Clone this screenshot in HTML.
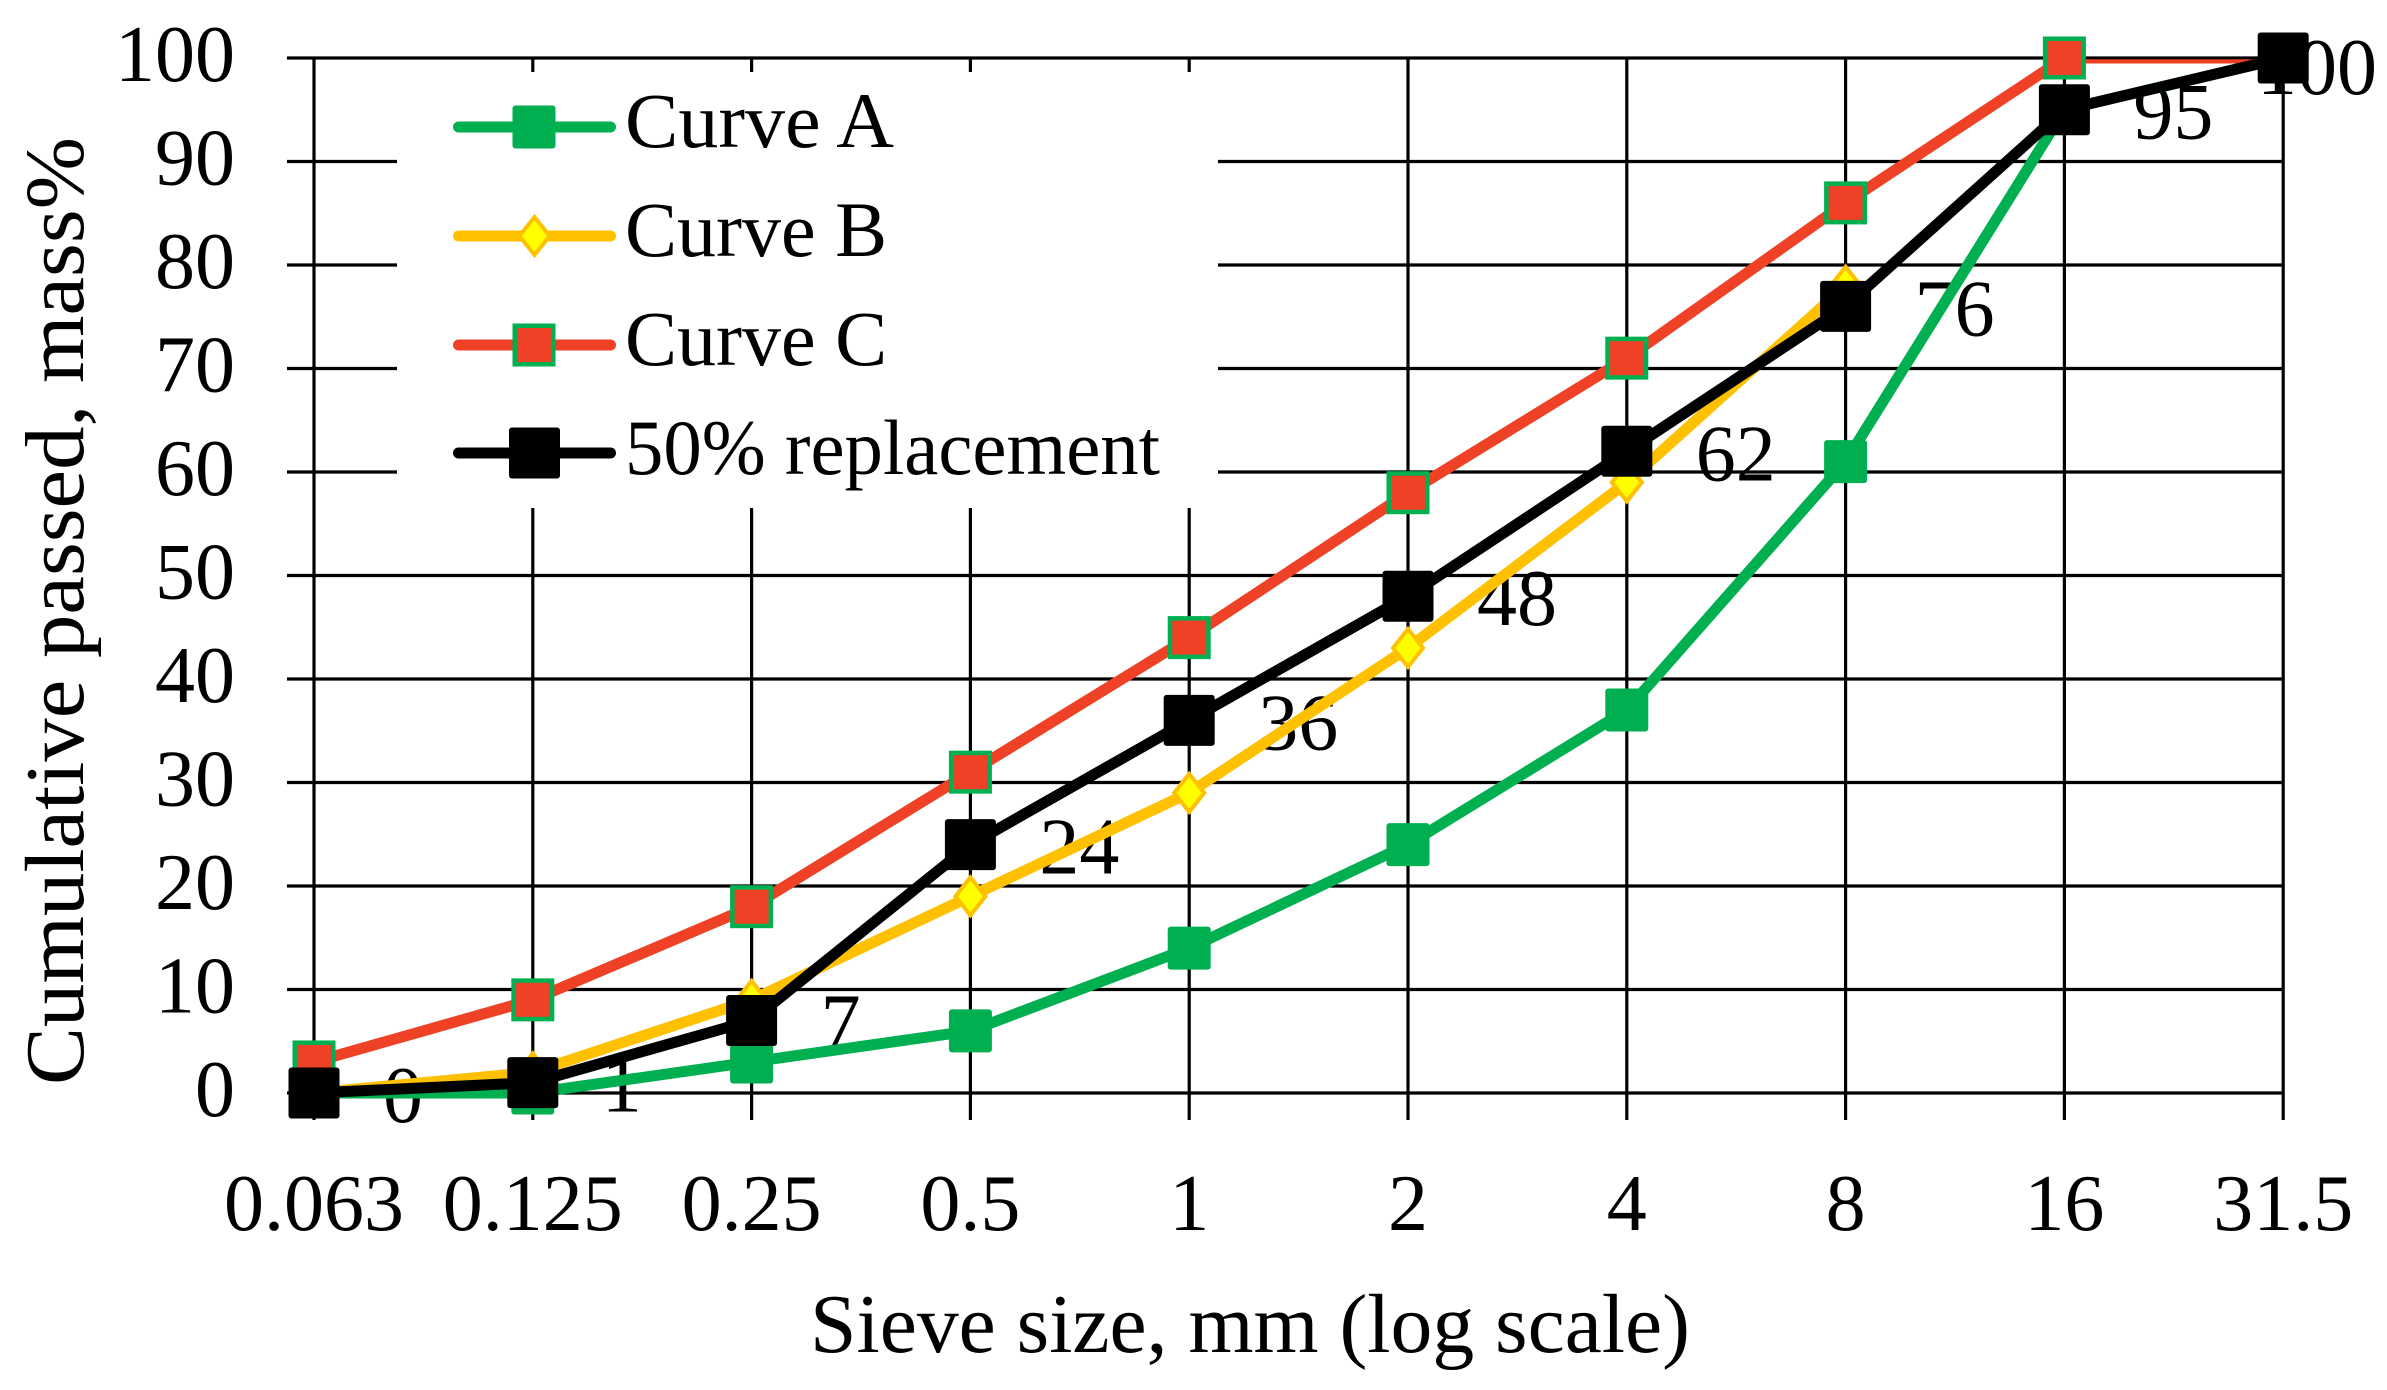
<!DOCTYPE html>
<html>
<head>
<meta charset="utf-8">
<style>
  html, body { margin: 0; padding: 0; background: #ffffff; }
  body { width: 2387px; height: 1390px; overflow: hidden; }
  svg { display: block; }
  text { font-family: "Liberation Serif", "Times New Roman", serif; fill: #000; }
</style>
</head>
<body>
<svg width="2387" height="1390" viewBox="0 0 2387 1390" xmlns="http://www.w3.org/2000/svg">
  <defs>
    <clipPath id="plotclip">
      <rect x="250" y="59.3" width="2100" height="1200"/>
    </clipPath>
  </defs>
  <rect x="0" y="0" width="2387" height="1390" fill="#ffffff"/>

  <!-- horizontal gridlines -->
  <g stroke="#000" stroke-width="3.2">
    <line x1="287" y1="58" x2="2284.5" y2="58"/>
    <line x1="287" y1="161.5" x2="2284.5" y2="161.5"/>
    <line x1="287" y1="265" x2="2284.5" y2="265"/>
    <line x1="287" y1="368.5" x2="2284.5" y2="368.5"/>
    <line x1="287" y1="472" x2="2284.5" y2="472"/>
    <line x1="287" y1="575.5" x2="2284.5" y2="575.5"/>
    <line x1="287" y1="679" x2="2284.5" y2="679"/>
    <line x1="287" y1="782.5" x2="2284.5" y2="782.5"/>
    <line x1="287" y1="886" x2="2284.5" y2="886"/>
    <line x1="287" y1="989.5" x2="2284.5" y2="989.5"/>
    <line x1="287" y1="1093" x2="2284.5" y2="1093"/>
  </g>
  <!-- vertical gridlines -->
  <g stroke="#000" stroke-width="3.2">
    <line x1="314" y1="56.5" x2="314" y2="1120"/>
    <line x1="532.8" y1="56.5" x2="532.8" y2="1120"/>
    <line x1="751.6" y1="56.5" x2="751.6" y2="1120"/>
    <line x1="970.4" y1="56.5" x2="970.4" y2="1120"/>
    <line x1="1189.2" y1="56.5" x2="1189.2" y2="1120"/>
    <line x1="1408" y1="56.5" x2="1408" y2="1120"/>
    <line x1="1626.8" y1="56.5" x2="1626.8" y2="1120"/>
    <line x1="1845.6" y1="56.5" x2="1845.6" y2="1120"/>
    <line x1="2064.4" y1="56.5" x2="2064.4" y2="1120"/>
    <line x1="2283.2" y1="56.5" x2="2283.2" y2="1120"/>
  </g>

  <!-- Y tick labels -->
  <g font-size="80" text-anchor="end">
    <text x="235" y="81">100</text>
    <text x="235" y="184.5">90</text>
    <text x="235" y="288">80</text>
    <text x="235" y="391.5">70</text>
    <text x="235" y="495">60</text>
    <text x="235" y="598.5">50</text>
    <text x="235" y="702">40</text>
    <text x="235" y="805.5">30</text>
    <text x="235" y="909">20</text>
    <text x="235" y="1012.5">10</text>
    <text x="235" y="1116">0</text>
  </g>

  <!-- X tick labels -->
  <g font-size="80" text-anchor="middle">
    <text x="314" y="1230">0.063</text>
    <text x="532.8" y="1230">0.125</text>
    <text x="751.6" y="1230">0.25</text>
    <text x="970.4" y="1230">0.5</text>
    <text x="1189.2" y="1230">1</text>
    <text x="1408" y="1230">2</text>
    <text x="1626.8" y="1230">4</text>
    <text x="1845.6" y="1230">8</text>
    <text x="2064.4" y="1230">16</text>
    <text x="2283.2" y="1230">31.5</text>
  </g>

  <!-- Axis titles -->
  <text x="1250" y="1352" font-size="84" text-anchor="middle" textLength="880" lengthAdjust="spacingAndGlyphs">Sieve size, mm (log scale)</text>
  <text x="0" y="0" font-size="84" text-anchor="middle" textLength="948" lengthAdjust="spacingAndGlyphs" transform="translate(83,611) rotate(-90)">Cumulative passed, mass%</text>

  <!-- Data labels (drawn beneath series) -->
  <g font-size="80">
    <text x="383" y="1122">0</text>
    <text x="601.8" y="1111.6">1</text>
    <text x="820.6" y="1049.5">7</text>
    <text x="1039.4" y="873.6">24</text>
    <text x="1258.2" y="749.4">36</text>
    <text x="1477" y="625.2">48</text>
    <text x="1695.8" y="480.3">62</text>
    <text x="1914.6" y="335.4">76</text>
    <text x="2133.4" y="138.7">95</text>
    <text x="2377" y="94" text-anchor="end">100</text>
  </g>

  <!-- Curve A -->
  <g clip-path="url(#plotclip)" fill="none" stroke-width="11" stroke-linejoin="round" stroke-linecap="butt">
    <polyline stroke="#00B050" points="314,1093 532.8,1093 751.6,1061.95 970.4,1030.9 1189.2,948.1 1408,844.6 1626.8,710.05 1845.6,461.65 2064.4,109.75 2283.2,58"/>
  </g>
  <g fill="#00B050">
    <rect x="292.5" y="1071.5" width="43" height="43" rx="3"/>
    <rect x="511.3" y="1071.5" width="43" height="43" rx="3"/>
    <rect x="730.1" y="1040.45" width="43" height="43" rx="3"/>
    <rect x="948.9" y="1009.4" width="43" height="43" rx="3"/>
    <rect x="1167.7" y="926.6" width="43" height="43" rx="3"/>
    <rect x="1386.5" y="823.1" width="43" height="43" rx="3"/>
    <rect x="1605.3" y="688.55" width="43" height="43" rx="3"/>
    <rect x="1824.1" y="440.15" width="43" height="43" rx="3"/>
    <rect x="2042.9" y="88.25" width="43" height="43" rx="3"/>
  </g>

  <!-- Curve B -->
  <g clip-path="url(#plotclip)" fill="none" stroke-width="11" stroke-linejoin="round">
    <polyline stroke="#FFC000" points="314,1093 532.8,1072.3 751.6,999.85 970.4,896.35 1189.2,792.85 1408,647.95 1626.8,482.35 1845.6,285.7"/>
  </g>
  <g fill="#FFFF00" stroke="#FFC000" stroke-width="4" stroke-linejoin="miter">
    <polygon points="314,1074 329,1093 314,1112 299,1093"/>
    <polygon points="532.8,1053.3 547.8,1072.3 532.8,1091.3 517.8,1072.3"/>
    <polygon points="751.6,980.85 766.6,999.85 751.6,1018.85 736.6,999.85"/>
    <polygon points="970.4,877.35 985.4,896.35 970.4,915.35 955.4,896.35"/>
    <polygon points="1189.2,773.85 1204.2,792.85 1189.2,811.85 1174.2,792.85"/>
    <polygon points="1408,628.95 1423,647.95 1408,666.95 1393,647.95"/>
    <polygon points="1626.8,463.35 1641.8,482.35 1626.8,501.35 1611.8,482.35"/>
    <polygon points="1845.6,266.7 1860.6,285.7 1845.6,304.7 1830.6,285.7"/>
  </g>

  <!-- Curve C -->
  <g clip-path="url(#plotclip)" fill="none" stroke-width="11" stroke-linejoin="round">
    <polyline stroke="#EE4125" points="314,1061.95 532.8,999.85 751.6,906.7 970.4,772.15 1189.2,637.6 1408,492.7 1626.8,358.15 1845.6,202.9 2064.4,58 2283.2,58"/>
  </g>
  <g fill="#EE4125" stroke="#00B050" stroke-width="4.5">
    <rect x="294.75" y="1042.7" width="38.5" height="38.5"/>
    <rect x="513.55" y="980.6" width="38.5" height="38.5"/>
    <rect x="732.35" y="887.45" width="38.5" height="38.5"/>
    <rect x="951.15" y="752.9" width="38.5" height="38.5"/>
    <rect x="1169.95" y="618.35" width="38.5" height="38.5"/>
    <rect x="1388.75" y="473.45" width="38.5" height="38.5"/>
    <rect x="1607.55" y="338.9" width="38.5" height="38.5"/>
    <rect x="1826.35" y="183.65" width="38.5" height="38.5"/>
    <rect x="2045.15" y="38.75" width="38.5" height="38.5"/>
    <rect x="2263.95" y="38.75" width="38.5" height="38.5"/>
  </g>

  <!-- 50% replacement -->
  <g clip-path="url(#plotclip)" fill="none" stroke-width="11" stroke-linejoin="round">
    <polyline stroke="#000000" points="314,1093 532.8,1082.65 751.6,1020.55 970.4,844.6 1189.2,720.4 1408,596.2 1626.8,451.3 1845.6,306.4 2064.4,109.75 2283.2,58"/>
  </g>
  <g fill="#000000">
    <rect x="288.5" y="1067.5" width="51" height="51" rx="3"/>
    <rect x="507.3" y="1057.15" width="51" height="51" rx="3"/>
    <rect x="726.1" y="995.05" width="51" height="51" rx="3"/>
    <rect x="944.9" y="819.1" width="51" height="51" rx="3"/>
    <rect x="1163.7" y="694.9" width="51" height="51" rx="3"/>
    <rect x="1382.5" y="570.7" width="51" height="51" rx="3"/>
    <rect x="1601.3" y="425.8" width="51" height="51" rx="3"/>
    <rect x="1820.1" y="280.9" width="51" height="51" rx="3"/>
    <rect x="2038.9" y="84.25" width="51" height="51" rx="3"/>
    <rect x="2257.7" y="32.5" width="51" height="51" rx="3"/>
  </g>

  <!-- Legend -->
  <rect x="397" y="72" width="821" height="436" fill="#ffffff"/>
  <g stroke-width="11" stroke-linecap="round">
    <line x1="458.5" y1="127" x2="610.5" y2="127" stroke="#00B050"/>
    <line x1="458.5" y1="236" x2="610.5" y2="236" stroke="#FFC000"/>
    <line x1="458.5" y1="345" x2="610.5" y2="345" stroke="#EE4125"/>
    <line x1="458.5" y1="453" x2="610.5" y2="453" stroke="#000000"/>
  </g>
  <rect x="512.5" y="105.5" width="43" height="43" rx="3" fill="#00B050"/>
  <polygon points="534.5,217 549.5,236 534.5,255 519.5,236" fill="#FFFF00" stroke="#FFC000" stroke-width="4"/>
  <rect x="514.75" y="325.75" width="38.5" height="38.5" fill="#EE4125" stroke="#00B050" stroke-width="4.5"/>
  <rect x="509" y="427.5" width="51" height="51" rx="3" fill="#000000"/>
  <g font-size="78">
    <text x="625" y="147" textLength="269" lengthAdjust="spacingAndGlyphs">Curve A</text>
    <text x="625" y="256">Curve B</text>
    <text x="625" y="365">Curve C</text>
    <text x="625" y="474" textLength="535" lengthAdjust="spacingAndGlyphs">50% replacement</text>
  </g>
</svg>
</body>
</html>
